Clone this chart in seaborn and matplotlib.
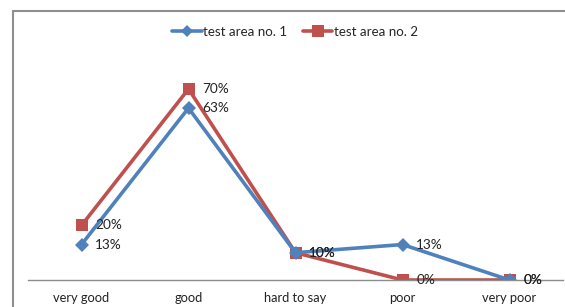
import pandas as pd
import matplotlib
matplotlib.use('Agg')
import matplotlib.pyplot as plt
from matplotlib.patches import Rectangle
from matplotlib.lines import Line2D
import seaborn as sns

# data
categories = ['very good', 'good', 'hard to say', 'poor', 'very poor']
area1 = [13, 63, 10, 13, 0]
area2 = [20, 70, 10, 0, 0]
series_names = ['test area no. 1', 'test area no. 2']

colors = {'test area no. 1': '#4F81BD', 'test area no. 2': '#C0504D'}
markers = {'test area no. 1': 'D', 'test area no. 2': 's'}

df = pd.DataFrame({
    'pos': list(range(len(categories))) * 2,
    'value': area1 + area2,
    'series': [series_names[0]] * len(area1) + [series_names[1]] * len(area2),
})

sns.set_style('white')
plt.rcParams['font.family'] = ['Lato', 'DejaVu Sans']

fig = plt.figure(figsize=(5.65, 3.07), dpi=100)
ax = fig.add_axes([28 / 565, 27 / 307, 535 / 565, 218.3 / 307])

# draw series 2 first so series 1 sits on top like in the original
for name in series_names[::-1]:
    sub = df[df['series'] == name]
    sns.lineplot(data=sub, x='pos', y='value', ax=ax, color=colors[name],
                 marker=markers[name], markersize=7.5 if name == series_names[0] else 8.5,
                 markeredgewidth=0, linewidth=2.6, sort=False, legend=False)

# data labels to the right of the points
for name in series_names:
    sub = df[df['series'] == name]
    for x, y in zip(sub['pos'], sub['value']):
        ax.annotate(f'{y}%', (x, y), xytext=(10, 0), textcoords='offset points',
                    ha='left', va='center', fontsize=9.8, color='#222222')

ax.set_xlim(-0.5, len(categories) - 0.5)
ax.set_ylim(0, 80)
ax.set_xticks(range(len(categories)))
ax.set_xticklabels(categories, fontsize=9.3, color='#222222')
ax.set_yticks([])
ax.set_xlabel('')
ax.set_ylabel('')
ax.tick_params(axis='x', length=0, pad=9)
for side in ['top', 'right', 'left']:
    ax.spines[side].set_visible(False)
ax.spines['bottom'].set_color('#8c8c8c')
ax.spines['bottom'].set_linewidth(1.0)
ax.patch.set_alpha(0)

handles = [Line2D([0], [0], color=colors[n], marker=markers[n], lw=2.6,
                  markersize=6 if n == series_names[0] else 8, markeredgewidth=0)
           for n in series_names]
fig.legend(handles, series_names, loc='center', bbox_to_anchor=(295 / 565, 1 - 32 / 307),
           ncol=2, frameon=False, fontsize=9.6, handlelength=2.2, handletextpad=0.1,
           columnspacing=1.2)

# outer chart frame (cut off at right and bottom)
fig.patches.append(Rectangle((12.5 / 565, -0.1), 1.2, 1 - 11 / 307 + 0.1,
                             transform=fig.transFigure, fill=False,
                             edgecolor='#8f8f8f', linewidth=1.5))

fig.savefig('out.png', dpi=100)
